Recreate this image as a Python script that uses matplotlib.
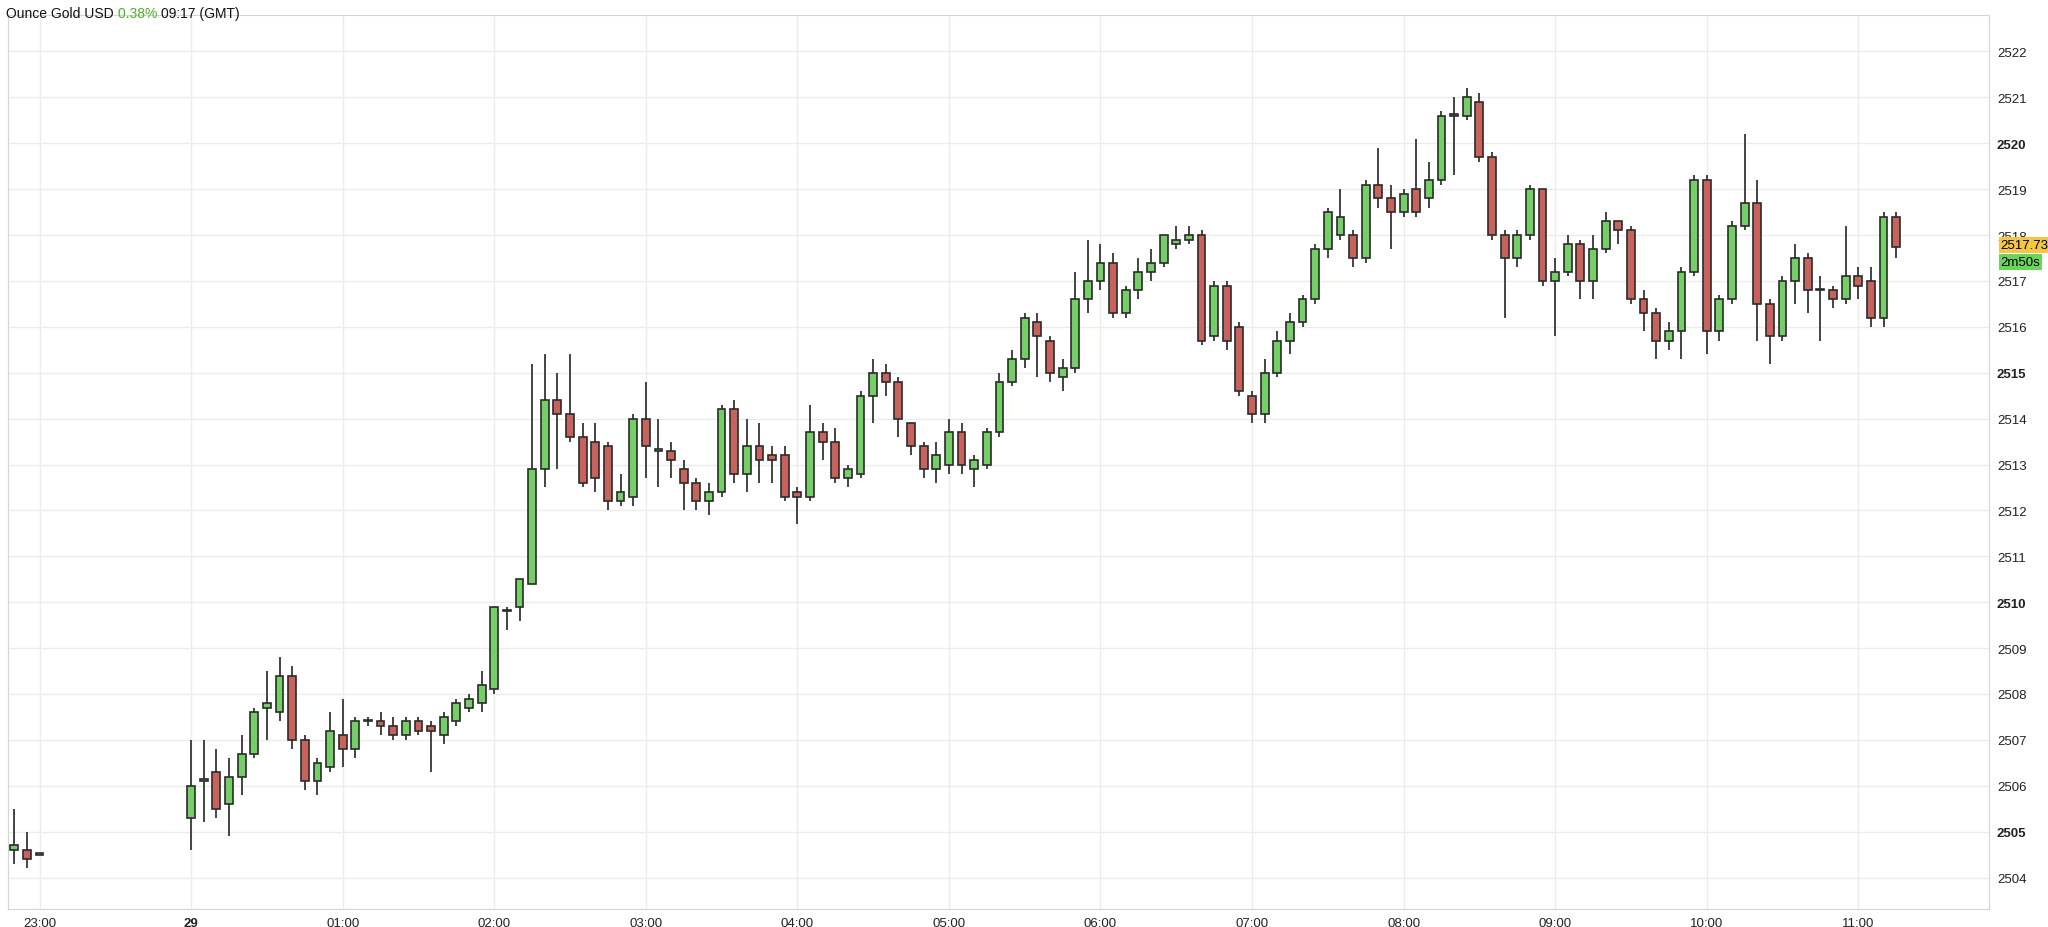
import numpy as np
import matplotlib.pyplot as plt

plt.rcParams['font.family'] = ['Liberation Sans', 'DejaVu Sans']

# 5-minute candles. pre-gap: 22:50..23:00, then 00:00..11:15
pre_times = [-10, -5, 0]  # minutes from 23:00
pre_o = [2504.6, 2504.6, 2504.5]
pre_h = [2505.5, 2505.0, 2504.5]
pre_l = [2504.3, 2504.2, 2504.5]
pre_c = [2504.7, 2504.4, 2504.5]

# from 00:00, every 5 minutes: (open, high, low, close)
ohlc = [
    (2505.3, 2507.0, 2504.6, 2506.0), (2506.1, 2507.0, 2505.2, 2506.15),
    (2506.3, 2506.8, 2505.3, 2505.5), (2505.6, 2506.6, 2504.9, 2506.2),
    (2506.2, 2507.1, 2505.8, 2506.7), (2506.7, 2507.7, 2506.6, 2507.6),
    (2507.7, 2508.5, 2507.0, 2507.8), (2507.6, 2508.8, 2507.4, 2508.4),
    (2508.4, 2508.6, 2506.8, 2507.0), (2507.0, 2507.1, 2505.9, 2506.1),
    (2506.1, 2506.6, 2505.8, 2506.5), (2506.4, 2507.6, 2506.3, 2507.2),
    (2507.1, 2507.9, 2506.4, 2506.8), (2506.8, 2507.5, 2506.6, 2507.4),
    (2507.4, 2507.5, 2507.3, 2507.42), (2507.4, 2507.6, 2507.1, 2507.3),
    (2507.3, 2507.5, 2507.0, 2507.1), (2507.1, 2507.5, 2507.0, 2507.4),
    (2507.4, 2507.5, 2507.1, 2507.2), (2507.3, 2507.4, 2506.3, 2507.2),
    (2507.1, 2507.6, 2506.9, 2507.5), (2507.4, 2507.9, 2507.3, 2507.8),
    (2507.7, 2508.0, 2507.6, 2507.9), (2507.8, 2508.5, 2507.6, 2508.2),
    (2508.1, 2509.9, 2508.0, 2509.9), (2509.8, 2509.9, 2509.4, 2509.82),
    (2509.9, 2510.5, 2509.6, 2510.5), (2510.4, 2515.2, 2510.4, 2512.9),
    (2512.9, 2515.4, 2512.5, 2514.4), (2514.4, 2515.0, 2512.9, 2514.1),
    (2514.1, 2515.4, 2513.5, 2513.6), (2513.6, 2513.9, 2512.5, 2512.6),
    (2513.5, 2513.9, 2512.4, 2512.7), (2513.4, 2513.5, 2512.0, 2512.2),
    (2512.2, 2512.8, 2512.1, 2512.4), (2512.3, 2514.1, 2512.1, 2514.0),
    (2514.0, 2514.8, 2512.7, 2513.4), (2513.3, 2514.0, 2512.5, 2513.32),
    (2513.3, 2513.5, 2512.7, 2513.1), (2512.9, 2513.1, 2512.0, 2512.6),
    (2512.6, 2512.7, 2512.0, 2512.2), (2512.2, 2512.6, 2511.9, 2512.4),
    (2512.4, 2514.3, 2512.3, 2514.2), (2514.2, 2514.4, 2512.6, 2512.8),
    (2512.8, 2514.0, 2512.4, 2513.4), (2513.4, 2513.9, 2512.6, 2513.1),
    (2513.2, 2513.4, 2512.6, 2513.1), (2513.2, 2513.4, 2512.2, 2512.3),
    (2512.4, 2512.5, 2511.7, 2512.3), (2512.3, 2514.3, 2512.2, 2513.7),
    (2513.7, 2513.9, 2513.1, 2513.5), (2513.5, 2513.8, 2512.6, 2512.7),
    (2512.7, 2513.0, 2512.5, 2512.9), (2512.8, 2514.6, 2512.7, 2514.5),
    (2514.5, 2515.3, 2513.9, 2515.0), (2515.0, 2515.2, 2514.5, 2514.8),
    (2514.8, 2514.9, 2513.6, 2514.0), (2513.9, 2513.9, 2513.2, 2513.4),
    (2513.4, 2513.5, 2512.7, 2512.9), (2512.9, 2513.5, 2512.6, 2513.2),
    (2513.0, 2514.0, 2512.8, 2513.7), (2513.7, 2513.9, 2512.8, 2513.0),
    (2512.9, 2513.2, 2512.5, 2513.1), (2513.0, 2513.8, 2512.9, 2513.7),
    (2513.7, 2515.0, 2513.6, 2514.8), (2514.8, 2515.5, 2514.7, 2515.3),
    (2515.3, 2516.3, 2515.1, 2516.2), (2516.1, 2516.3, 2514.9, 2515.8),
    (2515.7, 2515.8, 2514.8, 2515.0), (2514.9, 2515.3, 2514.6, 2515.1),
    (2515.1, 2517.2, 2515.0, 2516.6), (2516.6, 2517.9, 2516.3, 2517.0),
    (2517.0, 2517.8, 2516.8, 2517.4), (2517.4, 2517.6, 2516.2, 2516.3),
    (2516.3, 2516.9, 2516.2, 2516.8), (2516.8, 2517.5, 2516.6, 2517.2),
    (2517.2, 2517.7, 2517.0, 2517.4), (2517.4, 2518.0, 2517.3, 2518.0),
    (2517.8, 2518.2, 2517.7, 2517.9), (2517.9, 2518.2, 2517.8, 2518.0),
    (2518.0, 2518.1, 2515.6, 2515.7), (2515.8, 2517.0, 2515.7, 2516.9),
    (2516.9, 2517.0, 2515.5, 2515.7), (2516.0, 2516.1, 2514.5, 2514.6),
    (2514.5, 2514.6, 2513.9, 2514.1), (2514.1, 2515.3, 2513.9, 2515.0),
    (2515.0, 2515.9, 2514.9, 2515.7), (2515.7, 2516.3, 2515.4, 2516.1),
    (2516.1, 2516.7, 2516.0, 2516.6), (2516.6, 2517.8, 2516.5, 2517.7),
    (2517.7, 2518.6, 2517.5, 2518.5), (2518.0, 2519.0, 2517.9, 2518.4),
    (2518.0, 2518.1, 2517.3, 2517.5), (2517.5, 2519.2, 2517.4, 2519.1),
    (2519.1, 2519.9, 2518.6, 2518.8), (2518.8, 2519.1, 2517.7, 2518.5),
    (2518.5, 2519.0, 2518.4, 2518.9), (2519.0, 2520.1, 2518.4, 2518.5),
    (2518.8, 2519.6, 2518.6, 2519.2), (2519.2, 2520.7, 2519.1, 2520.6),
    (2520.62, 2521.0, 2519.3, 2520.6), (2520.6, 2521.2, 2520.5, 2521.0),
    (2520.9, 2521.1, 2519.6, 2519.7), (2519.7, 2519.8, 2517.9, 2518.0),
    (2518.0, 2518.1, 2516.2, 2517.5), (2517.5, 2518.1, 2517.3, 2518.0),
    (2518.0, 2519.1, 2517.9, 2519.0), (2519.0, 2519.0, 2516.9, 2517.0),
    (2517.0, 2517.5, 2515.8, 2517.2), (2517.2, 2518.0, 2517.1, 2517.8),
    (2517.8, 2517.9, 2516.6, 2517.0), (2517.0, 2518.0, 2516.6, 2517.7),
    (2517.7, 2518.5, 2517.6, 2518.3), (2518.3, 2518.3, 2517.8, 2518.1),
    (2518.1, 2518.2, 2516.5, 2516.6), (2516.6, 2516.8, 2515.9, 2516.3),
    (2516.3, 2516.4, 2515.3, 2515.7), (2515.7, 2516.1, 2515.5, 2515.9),
    (2515.9, 2517.3, 2515.3, 2517.2), (2517.2, 2519.3, 2517.1, 2519.2),
    (2519.2, 2519.3, 2515.4, 2515.9), (2515.9, 2516.7, 2515.7, 2516.6),
    (2516.6, 2518.3, 2516.5, 2518.2), (2518.2, 2520.2, 2518.1, 2518.7),
    (2518.7, 2519.2, 2515.7, 2516.5), (2516.5, 2516.6, 2515.2, 2515.8),
    (2515.8, 2517.1, 2515.7, 2517.0), (2517.0, 2517.8, 2516.5, 2517.5),
    (2517.5, 2517.6, 2516.3, 2516.8), (2516.8, 2517.1, 2515.7, 2516.82),
    (2516.8, 2516.9, 2516.4, 2516.6), (2516.6, 2518.2, 2516.5, 2517.1),
    (2517.1, 2517.3, 2516.6, 2516.9), (2517.0, 2517.3, 2516.0, 2516.2),
    (2516.2, 2518.5, 2516.0, 2518.4), (2518.4, 2518.5, 2517.5, 2517.73),
]
last_price = 2517.73

opens = pre_o + [r[0] for r in ohlc]
highs = pre_h + [r[1] for r in ohlc]
lows = pre_l + [r[2] for r in ohlc]
closes = pre_c + [r[3] for r in ohlc]
# positions in hours from 23:00
xs = np.array([m / 60 for m in pre_times] + [1 + 5 * i / 60 for i in range(len(ohlc))])

opens, highs, lows, closes = map(np.array, (opens, highs, lows, closes))

green = '#74d066'
red = '#c8625c'
edge = '#2b2b2b'

fig = plt.figure(figsize=(20.48, 9.28), dpi=100)
ax = fig.add_axes([0.004, 0.02 + 0.0, 0.967, 0.963])
ax.set_position([0.004, 0.0197, 0.967, 0.9633])

up = closes >= opens
cols = np.where(up, green, red)
w = 5 / 60 * 0.62
ax.vlines(xs, lows, highs, color='#444444', lw=1.4, zorder=2)
bottom = np.minimum(opens, closes)
height = np.maximum(np.abs(closes - opens), 0.03)
ax.bar(xs, height, bottom=bottom, width=w, color=cols, edgecolor=edge, lw=1.2, zorder=3)

ax.set_xlim(-0.207, 12.86)
ax.set_ylim(2503.32, 2522.8)

yt = np.arange(2504, 2523)
ax.set_yticks(yt)
ax.set_yticklabels([str(v) for v in yt])
ax.yaxis.tick_right()
for lab, v in zip(ax.get_yticklabels(), yt):
    if v % 5 == 0:
        lab.set_fontweight('bold')
xt = np.arange(0, 13)
xl = ['23:00', '29'] + ['%02d:00' % h for h in range(1, 12)]
ax.set_xticks(xt)
ax.set_xticklabels(xl)
ax.get_xticklabels()[1].set_fontweight('bold')
ax.tick_params(axis='both', labelsize=9.5, length=0, pad=6, colors='#222222')
ax.grid(True, color='#ececec', lw=1)
ax.set_axisbelow(True)
for s in ax.spines.values():
    s.set_color('#cfd8d8')

ax.text(1.006, last_price + 0.05, '2517.73', transform=ax.get_yaxis_transform(), va='center', ha='left',
        fontsize=9.5, bbox=dict(boxstyle='square,pad=0.15', fc='#f2c744', ec='none'))
ax.text(1.006, last_price - 0.32, '2m50s', transform=ax.get_yaxis_transform(), va='center', ha='left',
        fontsize=9.5, bbox=dict(boxstyle='square,pad=0.15', fc='#6cd45c', ec='none'))

# header line with coloured change
fig.canvas.draw()
r = fig.canvas.get_renderer()
x0 = 0.003
for s, c in [('Ounce Gold USD ', '#111111'), ('0.38% ', '#4caf2a'), ('09:17 (GMT)', '#111111')]:
    t = fig.text(x0, 0.992, s, fontsize=10, va='top', ha='left', color=c)
    bb = t.get_window_extent(renderer=r)
    x0 += bb.width / fig.bbox.width

fig.savefig('out.png', dpi=100)
